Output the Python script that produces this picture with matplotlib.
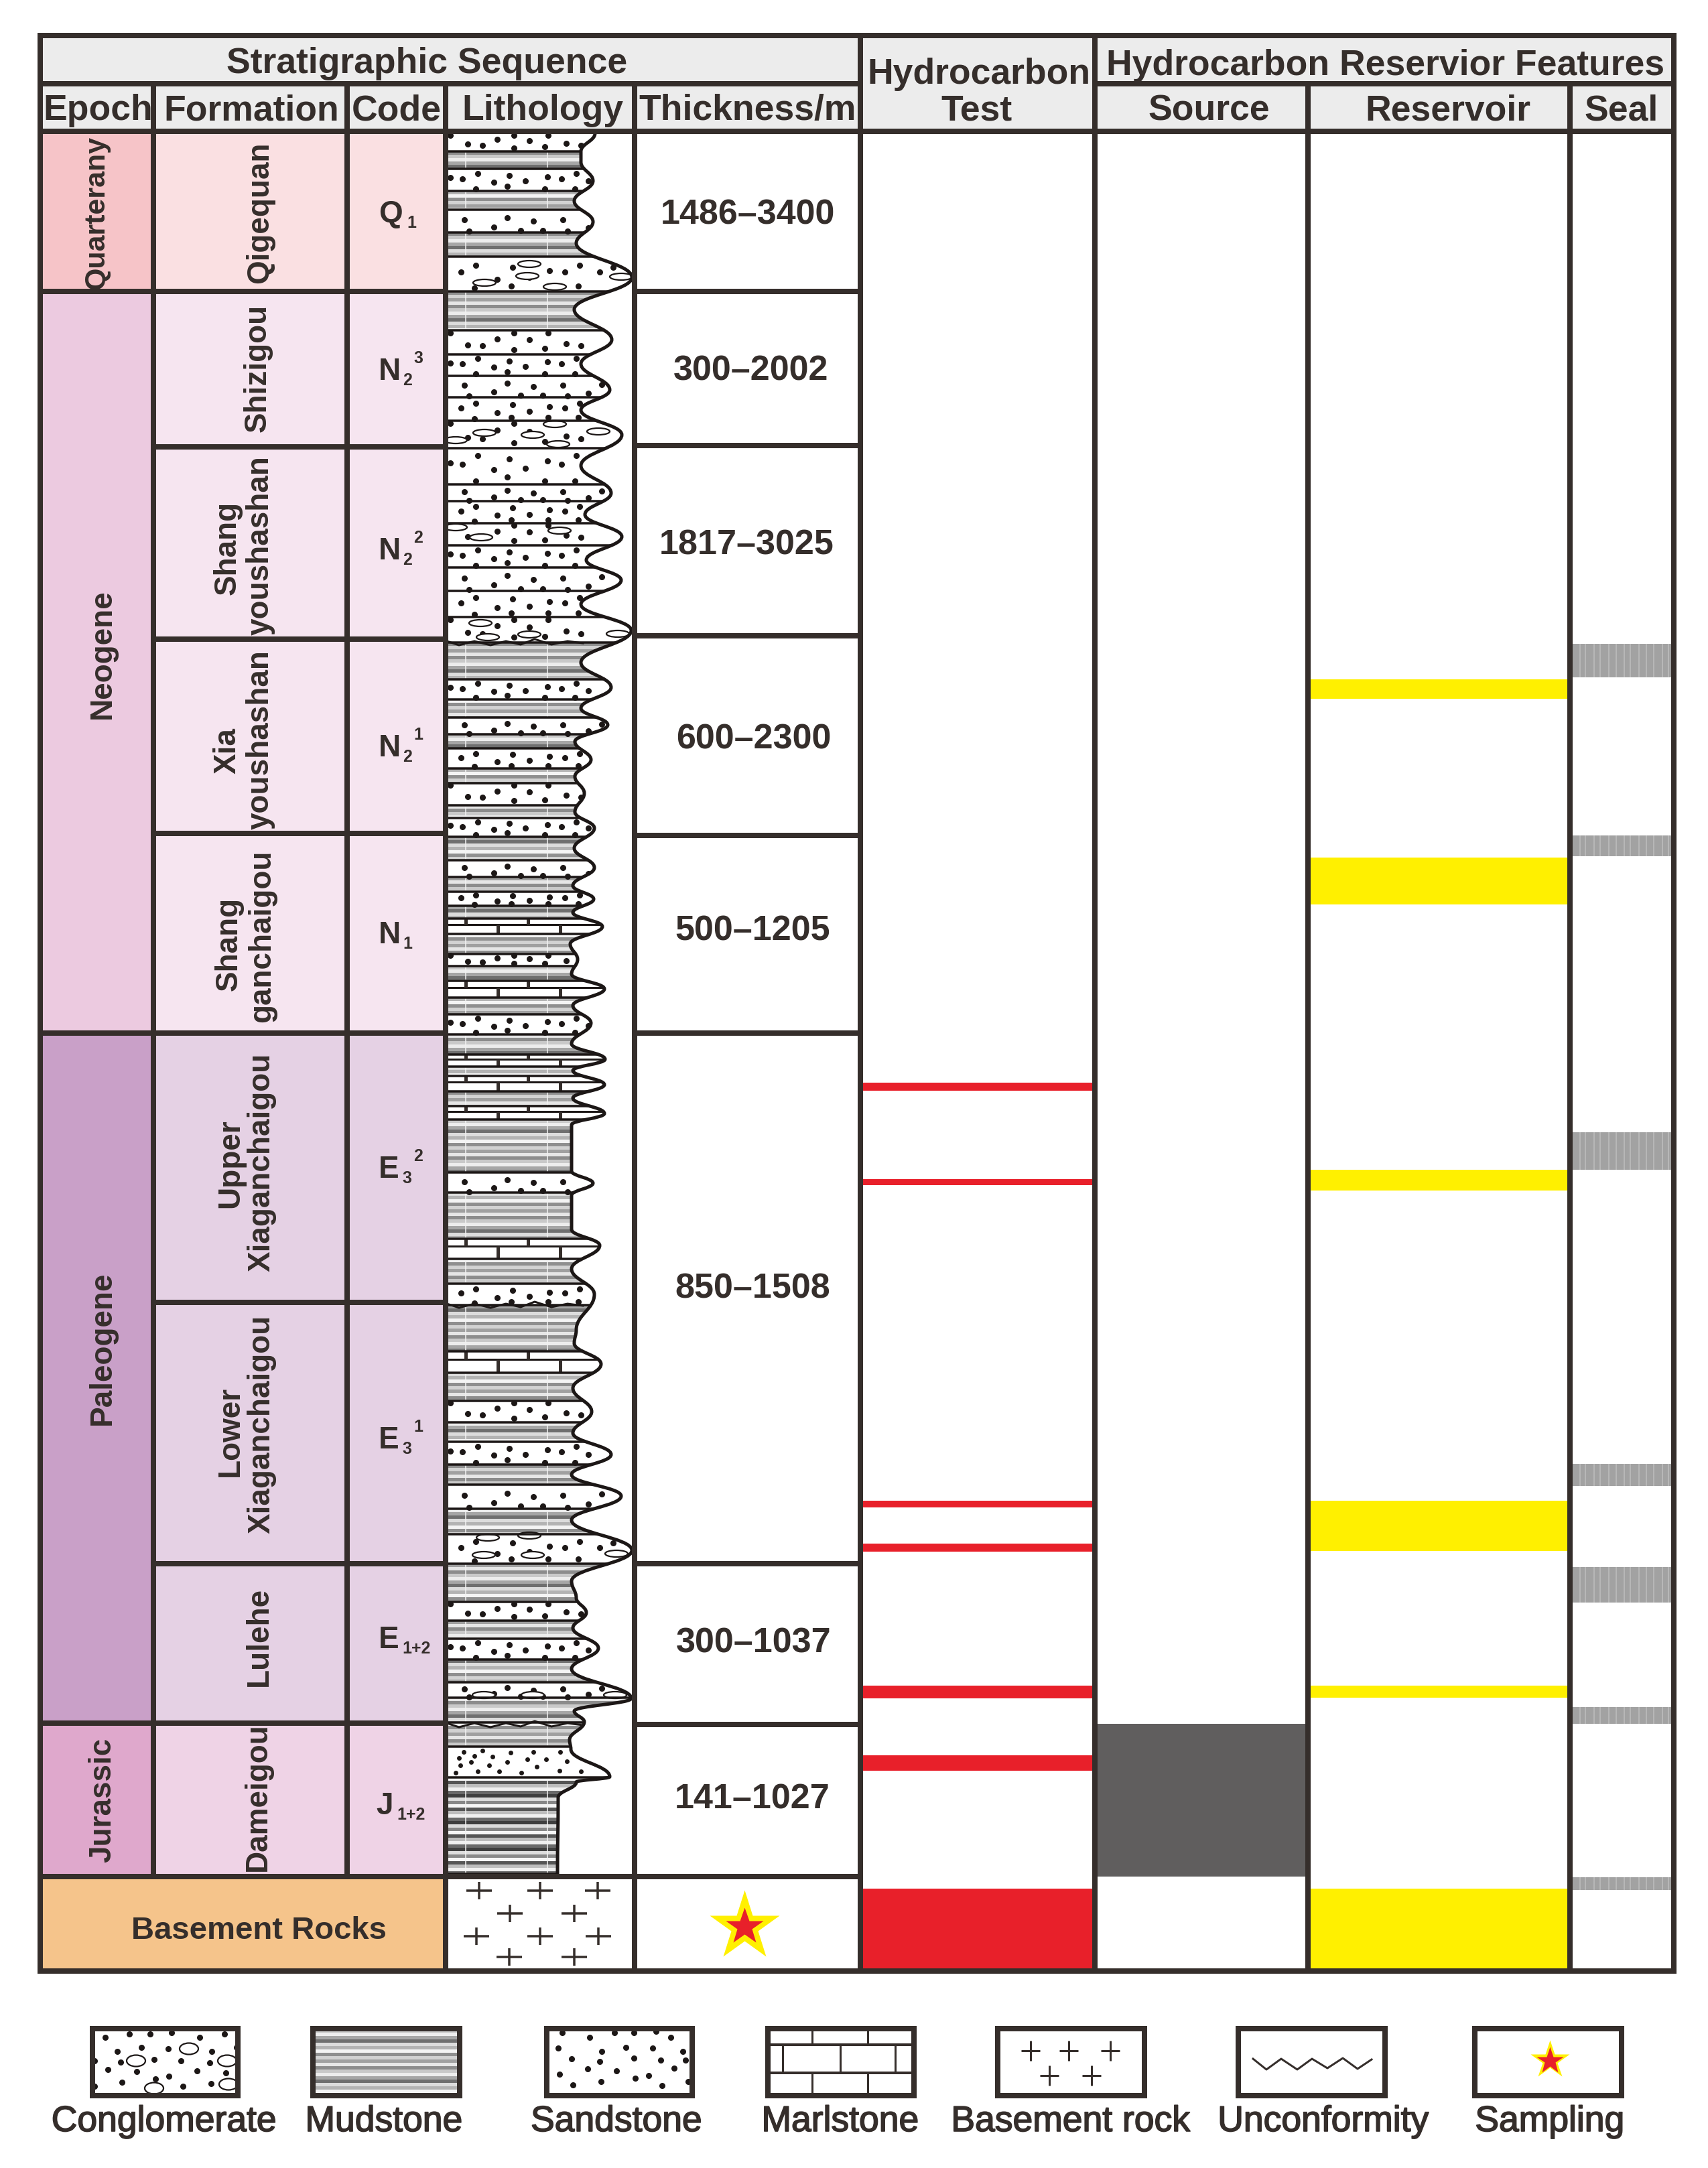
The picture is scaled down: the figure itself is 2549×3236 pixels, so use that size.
import matplotlib
matplotlib.use('Agg')
import matplotlib.pyplot as plt
from matplotlib.patches import Rectangle, Ellipse, PathPatch
from matplotlib.path import Path
import matplotlib.patheffects as pe

plt.rcParams['font.family'] = ['Liberation Sans', 'DejaVu Sans']

DARK = '#352e2b'
RED = '#e8202a'
YELLOW = '#fff000'
PX = 0.72  # one pixel in points at dpi 100

# table layout (image pixels)
col_x = [60, 229, 518, 665, 947, 1284, 1634, 1952, 2343, 2498]
top_y, head1_y, head2_y, bottom_y = 54, 126, 197, 2943
row_y = [197, 436, 668, 955, 1245, 1543, 1945, 2335, 2573, 2802]
thick_y = [197, 436, 666, 950, 1248, 1543, 2335, 2575, 2802]

# stratigraphy
epochs = ['Quarterany', 'Neogene', 'Paleogene', 'Jurassic']
epoch_rows = [(0, 1), (1, 5), (5, 8), (8, 9)]
epoch_colors = ['#f6c4c8', '#eccae0', '#c9a0c8', '#dfa8cc']
form_colors = ['#fae0e2', '#f6e5f0', '#e5d1e4', '#efd3e6']
epoch_text_x = [144, 153, 153, 153]
epoch_text_y = [317, 976, 2012, 2687]
epoch_text_fs = [31, 33, 33, 33]

form_lines = ['Qigequan', 'Shizigou', 'Shang', 'youshashan', 'Xia', 'youshashan', 'Shang', 'ganchaigou',
              'Upper', 'Xiaganchaigou', 'Lower', 'Xiaganchaigou', 'Lulehe', 'Dameigou']
form_x = [388, 385, 340, 389, 340, 389, 342, 391, 344, 391, 344, 391, 387, 385]
form_y = [317, 549, 818, 814, 1121, 1104, 1409, 1397, 1737, 1735, 2136, 2126, 2443, 2682]

code_main = ['Q', 'N', 'N', 'N', 'N', 'E', 'E', 'E', 'J']
code_sub = ['1', '2', '2', '2', '1', '3', '3', '1+2', '1+2']
code_sup = ['', '3', '2', '1', '', '2', '1', '', '']
code_x = [565, 565, 565, 565, 565, 565, 565, 565, 561]
code_sub_x = [607, 601, 601, 601, 601, 600, 600, 600, 592]
code_y = [320, 555, 823, 1117, 1396, 1746, 2150, 2448, 2696]

thickness = ['1486–3400', '300–2002', '1817–3025', '600–2300', '500–1205', '850–1508', '300–1037', '141–1027']
thick_x = [1116, 1121, 1114, 1125, 1123, 1123, 1125, 1123]
thick_text_y = [321, 554, 814, 1104, 1390, 1924, 2453, 2686]

# lithology column, s sand, m mud, c conglomerate, b marl
bed_kinds = ('smsmsmcm' 'ssssc' 'sssc' 'sssc' 'msmsmsmsmsmsmsm'
             'bmsmbmsmbmbmbmsmbmsmbm' 'smsmsmcmsmsmcmmsm')
bed_edges = [200, 227, 253, 286, 314, 348, 384, 436, 494, 530, 562, 594, 629, 670,
             724, 749, 782, 815, 848, 883, 922, 960,
             1015, 1045, 1072, 1097, 1118, 1148, 1170, 1203, 1222, 1250, 1285, 1310, 1332, 1353, 1372,
             1395, 1425, 1443, 1465, 1490, 1515, 1545, 1575, 1593, 1607, 1630, 1652, 1672, 1751, 1781, 1850,
             1880, 1917, 1949, 2018, 2050, 2092, 2124, 2153, 2187, 2217, 2253, 2291, 2335,
             2392, 2420, 2447, 2478, 2512, 2535, 2572, 2608, 2654, 2798]
profile_x = [888, 867, 867, 885, 857, 885, 860, 943, 857, 913, 867, 910, 867, 928, 867, 912, 873, 928, 875, 927,
             867, 942, 867, 912, 867, 907, 858, 882, 858, 872, 858, 887, 857, 887, 855, 886, 855, 899, 851, 862,
             853, 902, 855, 882, 853, 903, 855, 902, 855, 902, 853, 853, 885, 853, 853, 895, 853, 887, 860, 857,
             897, 855, 883, 855, 912, 853, 927, 853, 943, 853, 860, 875, 855, 893, 853, 942, 857, 872, 850, 852,
             910, 860, 833, 832]
profile_y = [200, 227, 243, 271, 301, 332, 364, 415, 463, 508, 544, 583, 613, 650, 696, 737, 769, 802, 837, 867,
             903, 942, 990, 1027, 1058, 1083, 1108, 1135, 1160, 1185, 1213, 1237, 1267, 1296, 1323, 1343, 1363, 1384, 1410, 1433,
             1455, 1477, 1502, 1528, 1559, 1582, 1599, 1620, 1640, 1663, 1680, 1749, 1767, 1785, 1836, 1860, 1895, 1933, 1986, 2006,
             2037, 2073, 2108, 2140, 2172, 2202, 2234, 2270, 2315, 2361, 2386, 2408, 2431, 2461, 2492, 2536, 2555, 2571, 2598, 2612,
             2653, 2661, 2684, 2798]
mud_grays = ['#8c8c8c', '#c9c9c9', '#ededed', '#a6a6a6', '#6f6f6f', '#dcdcdc', '#b3b3b3', '#f4f4f4',
             '#8f8f8f', '#d2d2d2', '#a0a0a0', '#e6e6e6']
mud_dark = ['#555555', '#bdbdbd', '#f0f0f0', '#6a6a6a', '#3f3f3f', '#dddddd', '#888888', '#f6f6f6']
sand_tiles = [
    [(672, .1), (698, .6), (720, .65), (742, .35), (767, .1), (767, .8), (790, .4), (813, .75), (818, .1), (845, .55), (867, .65)],
    [(672, .4), (690, .45), (713, .2), (737, .6), (760, .3), (757, .8), (784, .55), (817, .35), (813, .9), (838, .45), (860, .2), (878, .55), (710, .9), (858, .9)],
    [(693, .45), (700, .95), (737, .75), (757, .35), (777, .9), (796, .5), (810, .9), (840, .45), (847, .95), (878, .8), (898, .4)],
    [(688, .45), (710, .25), (742, .65), (765, .3), (790, .6), (820, .4), (843, .45), (865, .25), (708, .9), (763, .85), (818, .85), (863, .85), (895, .45), (915, .3)],
]
jur_dots_x = [692, 685, 708, 720, 735, 687, 703, 730, 757, 762, 787, 796, 815, 836, 846, 801, 680, 713, 745, 778, 835, 867]
jur_dots_f = [.18, .38, .3, .12, .33, .6, .5, .6, .5, .2, .42, .18, .42, .18, .48, .65, .85, .8, .8, .85, .78, .8]
pebble_x = [790, 787, 723, 828, 927, 723, 795, 893, 833, 680, 828, 718, 835, 680, 717, 728, 790, 922, 728, 790, 722, 795, 920, 722, 795, 918]
pebble_y = [395, 413, 423, 429, 414, 647, 650, 645, 664, 658, 634, 803, 793, 788, 931, 952, 948, 947, 2296, 2293, 2322, 2322, 2320, 2531, 2531, 2531]
wave_x = [670, 685, 708, 732, 755, 777, 798, 823, 847, 870]
wave_dy = [-1, 4, -2, 4, -2, 3, -5, 3, -2, 1]
wave_y = [960, 1949, 2575]
base_cross_x = [715, 806, 892, 761, 857, 711, 806, 893, 760, 857]
base_cross_y = [2823, 2823, 2823, 2857, 2857, 2891, 2891, 2891, 2922, 2922]

# hydrocarbon columns, (top, bottom)
test_bands = [(1617, 1629), (1761, 1770), (2241, 2251), (2305, 2317), (2517, 2536), (2621, 2644), (2820, 2939)]
source_bands = [(2574, 2802)]
reservoir_bands = [(1015, 1044), (1281, 1351), (1747, 1778), (2241, 2316), (2517, 2535), (2820, 2939)]
seal_bands = [(962, 1012), (1248, 1279), (1691, 1747), (2186, 2219), (2340, 2393), (2549, 2574), (2803, 2822)]
seal_streaks = [2358, 2366, 2379, 2388, 2401, 2412, 2424, 2433, 2446, 2457, 2468, 2481, 2490]

# legend
legend_left = [134, 463, 812, 1142, 1485, 1844, 2197]
legend_right = [359, 690, 1037, 1368, 1712, 2071, 2424]
legend_labels = ['Conglomerate', 'Mudstone', 'Sandstone', 'Marlstone', 'Basement rock', 'Unconformity', 'Sampling']
legend_text_x = [245, 573, 920, 1254, 1598, 1975, 2313]
leg_sand_x = [839, 880, 917, 946, 979, 1001, 833, 898, 934, 974, 1019, 853, 895, 946, 986, 1023, 877, 920, 1006, 835, 948, 968, 855, 897, 988, 1027]
leg_sand_y = [3035, 3042, 3035, 3035, 3033, 3042, 3058, 3063, 3057, 3058, 3063, 3074, 3078, 3073, 3076, 3076, 3089, 3092, 3088, 3097, 3103, 3099, 3113, 3108, 3114, 3108]
leg_cong_x = [157, 193, 224, 256, 298, 335, 175, 211, 251, 316, 230, 270, 313, 161, 204, 294, 337, 232, 252, 182, 273, 315, 141, 141, 180, 353]
leg_cong_y = [3042, 3037, 3037, 3035, 3042, 3037, 3063, 3057, 3059, 3063, 3075, 3077, 3080, 3090, 3093, 3092, 3095, 3104, 3100, 3109, 3115, 3111, 3115, 3077, 3079, 3057]
leg_peb_x = [203, 282, 339, 341, 230]
leg_peb_y = [3077, 3059, 3077, 3112, 3118]
leg_marl_lines = [3053, 3095]
leg_marl_top = [1212, 1295]
leg_marl_mid = [1168, 1254, 1336]
leg_cross_x = [1538, 1595, 1657, 1566, 1629]
leg_cross_y = [3062, 3062, 3062, 3099, 3099]
leg_zig_x = [1870, 1890, 1912, 1936, 1958, 1981, 2004, 2026, 2047]
leg_zig_y = [3074, 3090, 3074, 3090, 3074, 3088, 3073, 3089, 3075]

fig = plt.figure(figsize=(25.49, 32.37), dpi=100, facecolor='white')
ax = fig.add_axes([0, 0, 1, 1])
ax.set_xlim(0, 2549)
ax.set_ylim(3237, 0)
ax.axis('off')


def rect(x0, x1, y0, y1, color, clip=None, z=1):
    r = Rectangle((x0, y0), x1 - x0, y1 - y0, fc=color, ec='none', zorder=z)
    ax.add_patch(r)
    if clip is not None:
        r.set_clip_path(clip)
    return r


def hline(y, x0, x1, w=9, color=DARK, clip=None, z=5):
    l, = ax.plot([x0, x1], [y, y], color=color, lw=w * PX, solid_capstyle='butt', zorder=z)
    if clip is not None:
        l.set_clip_path(clip)


def vline(x, y0, y1, w=9, color=DARK, clip=None, z=5):
    l, = ax.plot([x, x], [y0, y1], color=color, lw=w * PX, solid_capstyle='butt', zorder=z)
    if clip is not None:
        l.set_clip_path(clip)


def label(x, y, s, fs=38.5, rot=0, weight='bold', va='center', ha='center', z=8):
    return ax.text(x, y, s, fontsize=fs, rotation=rot, fontweight=weight, ha=ha, va=va, color=DARK, zorder=z)


def mud(x0, x1, y0, y1, start, clip=None, grays=mud_grays):
    y = y0
    i = start
    while y < y1:
        rect(x0, x1, y, min(y + 5, y1), grays[i % len(grays)], clip, z=2)
        y += 5
        i += 1
    return i


def dots(xs, ys, clip=None, ms=6.5):
    l, = ax.plot(xs, ys, ls='none', marker='o', ms=ms, mfc='#1c1716', mec='none', zorder=3)
    if clip is not None:
        l.set_clip_path(clip)


def pebbles(xs, ys, w=34, h=10, clip=None):
    for x, y in zip(xs, ys):
        e = Ellipse((x, y), w, h, fc='white', ec='#1c1716', lw=1.6, zorder=3)
        ax.add_patch(e)
        if clip is not None:
            e.set_clip_path(clip)


# header fills
rect(col_x[0], col_x[-1], top_y, head2_y, '#ececec')

# epoch and formation fills
for k in range(len(epochs)):
    r0, r1 = epoch_rows[k]
    rect(col_x[0], col_x[1], row_y[r0], row_y[r1], epoch_colors[k])
    rect(col_x[1], col_x[3], row_y[r0], row_y[r1], form_colors[k])
rect(col_x[0], col_x[3], row_y[-1], bottom_y, '#f5c48b')

# hydrocarbon bands
for t, b in test_bands:
    rect(col_x[5], col_x[6], t, b, RED)
for t, b in source_bands:
    rect(col_x[6], col_x[7], t, b, '#605e5e')
for t, b in reservoir_bands:
    rect(col_x[7], col_x[8], t, b, YELLOW)
for t, b in seal_bands:
    rect(col_x[8], col_x[9], t, b, '#a2a2a2')
    ax.vlines(seal_streaks, t, b, colors='#bcbcbc', lw=1.2, zorder=2)

# lithology profile, smooth between the picked points with vertical tangents
verts = [(profile_x[0], profile_y[0])]
codes = [Path.MOVETO]
for i in range(1, len(profile_x)):
    dy = profile_y[i] - profile_y[i - 1]
    verts += [(profile_x[i - 1], profile_y[i - 1] + 0.42 * dy), (profile_x[i], profile_y[i] - 0.42 * dy), (profile_x[i], profile_y[i])]
    codes += [Path.CURVE4] * 3
curve = Path(verts, codes)
shape = Path(verts + [(col_x[3], profile_y[-1]), (col_x[3], profile_y[0]), (profile_x[0], profile_y[0])],
             codes + [Path.LINETO, Path.LINETO, Path.LINETO])
clip_patch = PathPatch(shape, fc='white', ec='none', zorder=1)
ax.add_patch(clip_patch)

stripe = 0
sand_no = 0
for i, kind in enumerate(bed_kinds):
    y0, y1 = bed_edges[i], bed_edges[i + 1]
    h = y1 - y0
    if kind == 'm':
        grays = mud_dark if y0 >= 2654 else mud_grays
        stripe = mud(col_x[3], 950, y0, y1, stripe, clip_patch, grays)
        vline(695, y0, y1, 1.5, '#f3f3f3', clip_patch, z=3)
        vline(817, y0, y1, 1.5, '#f3f3f3', clip_patch, z=3)
    elif kind in 'sc':
        if y0 == 2608:
            dots(jur_dots_x, [y0 + f * h for f in jur_dots_f], clip_patch, ms=5)
        else:
            tile = sand_tiles[sand_no % len(sand_tiles)]
            dots([p[0] for p in tile], [y0 + p[1] * h for p in tile], clip_patch)
            sand_no += 1
    elif kind == 'b':
        mid = y0 + 0.38 * h
        hline(mid, col_x[3], 950, 3, '#1c1716', clip_patch, z=3)
        for x in (695, 788):
            vline(x, y0, mid, 5, DARK, clip_patch, z=3)
        for x in (743, 836):
            vline(x, mid, y1, 5, DARK, clip_patch, z=3)
    hline(y1, col_x[3], 950, 3.5, '#1c1716', clip_patch, z=4)
pebbles(pebble_x, pebble_y, clip=clip_patch)
for y in wave_y:
    l, = ax.plot(wave_x, [y + d for d in wave_dy], color='#1c1716', lw=3 * PX, zorder=4)
    l.set_clip_path(clip_patch)
ax.add_patch(PathPatch(curve, fc='none', ec='#1c1716', lw=5 * PX, zorder=5))

# basement crosses
for x, y in zip(base_cross_x, base_cross_y):
    hline(y, x - 19, x + 19, 3.5)
    vline(x, y - 13, y + 13, 3.5)

# sampling star
ax.plot([1111], [2877], marker='*', ms=110 * PX, mfc=YELLOW, mec='none', ls='none', zorder=3)
ax.plot([1111], [2877], marker='*', ms=58 * PX, mfc=RED, mec='none', ls='none', zorder=4)

# table lines
hline(top_y, col_x[0] - 4, col_x[-1] + 4, 8)
hline(head1_y, col_x[0], col_x[5], 8)
hline(head1_y, col_x[6], col_x[-1], 8)
hline(head2_y, col_x[0], col_x[-1], 8)
hline(bottom_y, col_x[0] - 4, col_x[-1] + 4, 8)
vline(col_x[0], top_y, bottom_y, 8)
vline(col_x[-1], top_y, bottom_y, 8)
vline(col_x[1], head1_y, row_y[-1], 8)
vline(col_x[2], head1_y, row_y[-1], 8)
vline(col_x[3], head1_y, bottom_y, 8)
vline(col_x[4], head1_y, bottom_y, 8)
vline(col_x[5], top_y, bottom_y, 8)
vline(col_x[6], top_y, bottom_y, 8)
vline(col_x[7], head1_y, bottom_y, 8)
vline(col_x[8], head1_y, bottom_y, 8)
for y in row_y[1:]:
    x0 = col_x[0] if y in (436, 1543, 2573, 2802) else col_x[1]
    hline(y, x0, col_x[3] + 4, 8)
hline(row_y[-1], col_x[3], col_x[4], 8)
for y in thick_y[1:]:
    hline(y, col_x[4], col_x[5], 8)

# header text
label(637, 109, 'Stratigraphic Sequence', va='baseline')
label(146, 179, 'Epoch', va='baseline')
label(375, 179, 'Formation', va='baseline')
label(592, 179, 'Code', va='baseline')
label(810, 179, 'Lithology', va='baseline')
label(1116, 179, 'Thickness/m', va='baseline')
label(1461, 125, 'Hydrocarbon', va='baseline')
label(1457, 180, 'Test', va='baseline')
label(2068, 112, 'Hydrocarbon Reservior Features', va='baseline')
label(1804, 180, 'Source', va='baseline')
label(2161, 180, 'Reservoir', va='baseline')
label(2420, 180, 'Seal', va='baseline')

# left columns text
for s, x, y, fs in zip(epochs, epoch_text_x, epoch_text_y, epoch_text_fs):
    label(x, y, s, fs=fs, rot=90)
for s, x, y in zip(form_lines, form_x, form_y):
    label(x, y, s, fs=33, rot=90)
for m, sub, sup, x, sx, y in zip(code_main, code_sub, code_sup, code_x, code_sub_x, code_y):
    label(x, y, m, fs=33, ha='left')
    label(sx, y + 13, sub, fs=18, ha='left')
    if sup:
        label(617, y - 20, sup, fs=18, ha='left')
for s, x, y in zip(thickness, thick_x, thick_text_y):
    label(x, y, s, fs=37.5)
label(387, 2882, 'Basement Rocks', fs=34)

# legend boxes
stripe = 0
mud(legend_left[1], legend_right[1], 3025, 3133, stripe)
dots(leg_cong_x, leg_cong_y, ms=6.5)
pebbles(leg_peb_x, leg_peb_y, w=28, h=17)
dots(leg_sand_x, leg_sand_y, ms=6.5)
for y in leg_marl_lines:
    hline(y, legend_left[3], legend_right[3], 4)
for x in leg_marl_top:
    vline(x, 3028, 3053, 3)
    vline(x, 3095, 3130, 3)
for x in leg_marl_mid:
    vline(x, 3053, 3095, 3)
for x, y in zip(leg_cross_x, leg_cross_y):
    hline(y, x - 14, x + 14, 3)
    vline(x, y - 15, y + 15, 3)
ax.plot(leg_zig_x, leg_zig_y, color=DARK, lw=3 * PX, zorder=5)
ax.plot([2313], [3076], marker='*', ms=60 * PX, mfc=YELLOW, mec='none', ls='none', zorder=3)
ax.plot([2313], [3077], marker='*', ms=42 * PX, mfc=RED, mec='none', ls='none', zorder=4)
for x0, x1, s, tx in zip(legend_left, legend_right, legend_labels, legend_text_x):
    ax.add_patch(Rectangle((x0 + 4, 3029), x1 - x0 - 8, 100, fc='none', ec=DARK, lw=8 * PX, zorder=6))
    t = label(tx, 3182, s, fs=38.5, weight='normal', va='baseline')
    t.set_path_effects([pe.withStroke(linewidth=1.2, foreground=DARK)])

fig.savefig('out.png', dpi=100, facecolor='white')
